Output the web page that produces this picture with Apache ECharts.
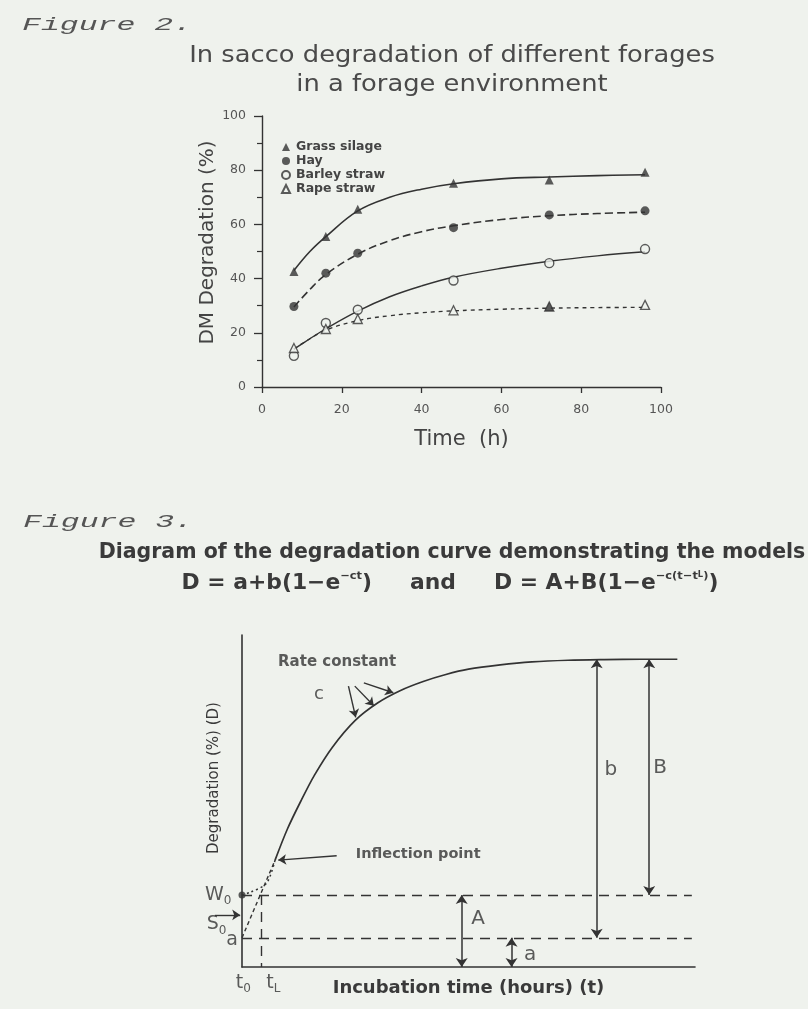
<!DOCTYPE html>
<html>
<head>
<meta charset="utf-8">
<script src="https://cdn.jsdelivr.net/npm/echarts@6/dist/echarts.min.js"></script>
<style>
  html, body { margin: 0; padding: 0; background: #eff2ed; }
  #c { width: 808px; height: 1009px; }
</style>
</head>
<body>
<div id="c"></div>
<script>
// ---- Figure 2: in sacco DM degradation (%) against incubation time (h) ----
const hours = [8, 16, 24, 48, 72, 96];
const grassSilage = [42.6, 55.5, 65.6, 75.2, 76.4, 79.2];
const hay = [29.7, 42.0, 49.4, 58.8, 63.5, 65.0];
const barleyStraw = [11.5, 23.6, 28.5, 39.3, 45.7, 50.9];
const rapeStraw = [14.4, 21.4, 25.1, 28.3, 29.7, 30.3];

// fitted degradation curves, read at these hours
const fitHours = [8, 12, 16, 24, 32, 40, 48, 60, 72, 84, 96];
const grassFit = [43.0, 50.0, 55.5, 65.0, 70.0, 73.0, 75.0, 76.8, 77.5, 78.0, 78.3];
const hayFit = [29.5, 36.0, 41.5, 49.0, 54.0, 57.3, 59.5, 61.8, 63.2, 64.0, 64.5];
const barleyFit = [14.0, 17.8, 21.5, 28.0, 33.3, 37.3, 40.5, 43.8, 46.4, 48.4, 49.9];
const rapeFit = [14.0, 17.8, 21.0, 24.5, 26.3, 27.4, 28.1, 28.7, 29.1, 29.3, 29.4];

const axisTicks = [0, 20, 40, 60, 80, 100];

// ---- Figure 3: schematic degradation curve (arbitrary units, 0-100) ----
const curveT = [7.3, 10, 13, 16, 20, 25, 30, 35, 40, 45, 50, 57, 64, 72, 80, 88, 96.1];
const curveD = [32.2, 41.5, 50.0, 57.8, 66.3, 74.3, 79.6, 83.3, 86.0, 88.1, 89.7, 91.0, 91.9, 92.4, 92.6, 92.7, 92.7];
const lagT = [0, 1.8, 5.4, 7.3];
const lagD = [21.7, 22.5, 25.2, 32.2];
const backT = [0, 7.3];
const backD = [8.8, 32.2];

const levelW0 = 21.7;   // W0 = A
const levelA = 8.8;     // a
const plateau = 92.7;   // a + b = A + B
const tL = 4.3;
const guideEnd = 99.3;

// double-headed spans: b, B, A, a
const spanX = [78.3, 89.9, 48.5, 59.5];
const spanTop = [plateau, plateau, levelW0, levelA];
const spanBottom = [levelA, levelW0, 0, 0];

// single pointers: three rate-constant arrows, inflection point, S0
const pointerFrom = [[23.5, 84.6], [24.9, 84.6], [26.9, 85.6], [20.9, 33.5], [-6.0, 15.7]];
const pointerTo = [[25.1, 75.2], [29.1, 78.7], [33.4, 82.6], [8.0, 32.2], [-0.4, 15.7]];

// text notes inside the diagram
const noteText = ['Rate constant', 'c', 'Inflection point', 'b', 'B', 'A', 'a'];
const noteX = [21.0, 17.0, 38.9, 81.4, 92.3, 52.1, 63.6];
const noteY = [91.7, 82.2, 34.0, 59.3, 59.9, 14.4, 3.6];

const ink = '#333';
const paper = '#eff2ed';
const sans = 'DejaVu Sans';

const pairs = (xs, ys) => xs.map((x, i) => [x, ys[i]]);

const chart = echarts.init(document.getElementById('c'));

const subRich = {
  m: { fontSize: 19, lineHeight: 24, color: ink, fontFamily: sans, verticalAlign: 'middle' },
  sub: { fontSize: 12, lineHeight: 14, color: ink, fontFamily: sans, verticalAlign: 'bottom' }
};

const noteStyle = [
  { fontSize: 15, fontWeight: 'bold' },
  { fontSize: 18 },
  { fontSize: 14.5, fontWeight: 'bold' },
  { fontSize: 20 },
  { fontSize: 20 },
  { fontSize: 20 },
  { fontSize: 20 }
];

const headingInk = '#3a3a3a';

chart.setOption({
  backgroundColor: paper,
  animation: false,
  textStyle: { fontFamily: sans, color: ink },
  graphic: [
    {
      type: 'text', x: 22, y: 25, scaleX: 1.75, silent: true,
      style: { text: 'Figure 2.', fontFamily: 'Liberation Mono', fontStyle: 'italic', fontSize: 18,
               fill: '#555', textAlign: 'left', textVerticalAlign: 'middle' }
    },
    {
      type: 'text', x: 452, y: 71, scaleX: 1.12, silent: true,
      style: { text: 'In sacco degradation of different forages\nin a forage environment',
               fontFamily: sans, fontSize: 23, lineHeight: 29, fill: '#4a4a4a',
               textAlign: 'center', textVerticalAlign: 'middle' }
    },
    {
      type: 'text', x: 23, y: 522, scaleX: 1.75, silent: true,
      style: { text: 'Figure 3.', fontFamily: 'Liberation Mono', fontStyle: 'italic', fontSize: 18,
               fill: '#555', textAlign: 'left', textVerticalAlign: 'middle' }
    },
    {
      type: 'text', x: 452, y: 553, silent: true,
      style: { text: 'Diagram of the degradation curve demonstrating the models',
               fontFamily: sans, fontWeight: 'bold', fontSize: 20.5, fill: headingInk,
               textAlign: 'center', textVerticalAlign: 'middle' }
    },
    {
      type: 'text', x: 450, y: 584, scaleX: 1.04, silent: true,
      style: {
        text: '{m|D = a+b(1\u2212e}{s|\u2212ct}{m|)     and     D = A+B(1\u2212e}{s|\u2212c(t\u2212t}{ss|L}{s|)}{m|)}',
        textAlign: 'center', textVerticalAlign: 'middle',
        rich: {
          m: { fontFamily: sans, fontWeight: 'bold', fontSize: 21, lineHeight: 26, fill: headingInk },
          s: { fontFamily: sans, fontWeight: 'bold', fontSize: 11, lineHeight: 13, verticalAlign: 'top', fill: headingInk },
          ss: { fontFamily: sans, fontWeight: 'bold', fontSize: 8, lineHeight: 18, verticalAlign: 'top', fill: headingInk }
        }
      }
    }
  ],
  legend: {
    orient: 'vertical',
    left: 281, top: 140,
    padding: 0,
    itemWidth: 8, itemHeight: 8, itemGap: 0,
    selectedMode: false,
    textStyle: { fontFamily: sans, fontSize: 12.5, fontWeight: 'bold', lineHeight: 14, color: '#444', padding: [0, 0, 0, 1] },
    data: ['Grass silage', 'Hay', 'Barley straw', 'Rape straw']
  },
  grid: [
    { left: 262, top: 116, width: 399, height: 271, containLabel: false, outerBoundsMode: 'none' },
    { left: 242, top: 635, width: 453, height: 332, containLabel: false, outerBoundsMode: 'none' }
  ],
  xAxis: [
    {
      gridIndex: 0, type: 'value', min: axisTicks[0], max: axisTicks[axisTicks.length - 1], interval: 20,
      name: 'Time  (h)', nameLocation: 'middle', nameGap: 42,
      nameTextStyle: { fontFamily: sans, fontSize: 21, color: '#444' },
      axisLine: { lineStyle: { color: ink, width: 1.4 } },
      axisTick: { length: 6, lineStyle: { color: ink, width: 1.3 } },
      axisLabel: { margin: 16, fontSize: 12.5, color: '#555', fontFamily: sans },
      splitLine: { show: false }
    },
    {
      gridIndex: 1, type: 'value', min: 0, max: 100,
      name: 'Incubation time (hours) (t)', nameLocation: 'middle', nameGap: 12,
      nameTextStyle: { fontFamily: sans, fontSize: 18, fontWeight: 'bold', color: headingInk },
      axisLine: { lineStyle: { color: ink, width: 1.6 } },
      axisTick: { show: false }, axisLabel: { show: false },
      splitLine: { show: false }
    }
  ],
  yAxis: [
    {
      gridIndex: 0, type: 'value', min: axisTicks[0], max: axisTicks[axisTicks.length - 1], interval: 20,
      name: 'DM Degradation (%)', nameLocation: 'middle', nameGap: 40,
      nameTextStyle: { fontFamily: sans, fontSize: 20, color: '#444', padding: [0, 0, 0, 18] },
      axisLine: { lineStyle: { color: ink, width: 1.4 } },
      axisTick: { length: 8, lineStyle: { color: ink, width: 1.3 } },
      minorTick: { show: true, splitNumber: 2, length: 5, lineStyle: { color: ink, width: 1.2 } },
      axisLabel: { margin: 16, fontSize: 12.5, color: '#555', fontFamily: sans },
      splitLine: { show: false }, minorSplitLine: { show: false }
    },
    {
      gridIndex: 1, type: 'value', min: 0, max: 100,
      name: 'Degradation (%) (D)', nameLocation: 'middle', nameGap: 20,
      nameTextStyle: { fontFamily: sans, fontSize: 15, color: headingInk, padding: [0, 0, 0, 46] },
      axisLine: { lineStyle: { color: ink, width: 1.6 } },
      axisTick: { show: false }, axisLabel: { show: false },
      splitLine: { show: false }
    }
  ],
  series: [
    // fitted curves
    {
      name: 'Grass silage fit', type: 'line', xAxisIndex: 0, yAxisIndex: 0, smooth: 0.4, symbol: 'none',
      data: pairs(fitHours, grassFit), lineStyle: { color: ink, width: 1.6 }, silent: true
    },
    {
      name: 'Hay fit', type: 'line', xAxisIndex: 0, yAxisIndex: 0, smooth: 0.4, symbol: 'none',
      data: pairs(fitHours, hayFit), lineStyle: { color: ink, width: 1.6, type: [8, 4] }, silent: true
    },
    {
      name: 'Barley straw fit', type: 'line', xAxisIndex: 0, yAxisIndex: 0, smooth: 0.4, symbol: 'none',
      data: pairs(fitHours, barleyFit), lineStyle: { color: ink, width: 1.4 }, silent: true
    },
    {
      name: 'Rape straw fit', type: 'line', xAxisIndex: 0, yAxisIndex: 0, smooth: 0.4, symbol: 'none',
      data: pairs(fitHours, rapeFit), lineStyle: { color: ink, width: 1.4, type: [4, 4] }, silent: true
    },
    // measured points
    {
      name: 'Grass silage', type: 'scatter', xAxisIndex: 0, yAxisIndex: 0, symbol: 'triangle', symbolSize: 9,
      data: pairs(hours, grassSilage), itemStyle: { color: ink }, z: 3
    },
    {
      name: 'Hay', type: 'scatter', xAxisIndex: 0, yAxisIndex: 0, symbol: 'circle', symbolSize: 9,
      data: pairs(hours, hay), itemStyle: { color: ink }, z: 3
    },
    {
      name: 'Barley straw', type: 'scatter', xAxisIndex: 0, yAxisIndex: 0, symbol: 'circle', symbolSize: 9,
      data: pairs(hours, barleyStraw), itemStyle: { color: paper, borderColor: ink, borderWidth: 1.4 }, z: 3
    },
    {
      name: 'Rape straw', type: 'scatter', xAxisIndex: 0, yAxisIndex: 0, symbol: 'triangle', symbolSize: 9,
      data: pairs(hours, rapeStraw).map((p, i) => (hours[i] === 72 ? { value: p, itemStyle: { color: ink } } : p)),
      itemStyle: { color: paper, borderColor: ink, borderWidth: 1.3 }, z: 3
    },

    // Figure 3 curve and its construction lines
    {
      name: 'Degradation curve', type: 'line', xAxisIndex: 1, yAxisIndex: 1, smooth: 0.3, symbol: 'none',
      data: pairs(curveT, curveD), lineStyle: { color: ink, width: 1.7 }, silent: true
    },
    {
      name: 'Lag phase', type: 'line', xAxisIndex: 1, yAxisIndex: 1, smooth: 0.3, symbol: 'none',
      data: pairs(lagT, lagD), lineStyle: { color: ink, width: 1.5, type: [2, 3] }, silent: true
    },
    {
      name: 'Back extrapolation', type: 'line', xAxisIndex: 1, yAxisIndex: 1, symbol: 'none',
      data: pairs(backT, backD), lineStyle: { color: ink, width: 1.4, type: [4, 3] }, silent: true
    },
    {
      name: 'Guides', type: 'lines', coordinateSystem: 'cartesian2d', xAxisIndex: 1, yAxisIndex: 1, silent: true,
      lineStyle: { color: ink, width: 1.4, type: [10, 7], opacity: 1 },
      data: [
        { coords: [[0, levelW0], [guideEnd, levelW0]] },
        { coords: [[0, levelA], [guideEnd, levelA]] },
        { coords: [[tL, levelW0], [tL, 0]] }
      ]
    },
    {
      name: 'Spans', type: 'lines', coordinateSystem: 'cartesian2d', xAxisIndex: 1, yAxisIndex: 1, silent: true,
      symbol: ['arrow', 'arrow'], symbolSize: 9,
      lineStyle: { color: ink, width: 1.5, opacity: 1 },
      data: spanX.map((x, i) => ({ coords: [[x, spanTop[i]], [x, spanBottom[i]]] }))
    },
    {
      name: 'Pointers', type: 'lines', coordinateSystem: 'cartesian2d', xAxisIndex: 1, yAxisIndex: 1, silent: true,
      symbol: ['none', 'arrow'], symbolSize: 8, clip: false,
      lineStyle: { color: ink, width: 1.4, opacity: 1 },
      data: pointerFrom.map((p, i) => ({ coords: [p, pointerTo[i]] }))
    },
    {
      name: 'W0', type: 'scatter', xAxisIndex: 1, yAxisIndex: 1, symbol: 'circle', symbolSize: 7, clip: false,
      itemStyle: { color: ink }, silent: true, z: 4,
      data: [[0, levelW0]],
      label: { show: true, position: 'left', distance: 7, formatter: '{m|W}{sub|0}', rich: subRich }
    },
    {
      name: 'Axis notes', type: 'scatter', xAxisIndex: 1, yAxisIndex: 1, symbolSize: 1, clip: false,
      itemStyle: { color: 'transparent' }, silent: true,
      data: [
        { value: [-5.6, 12.8], label: { formatter: '{m|S}{sub|0}' } },
        { value: [-2.2, 8.1], label: { formatter: '{m|a}' } },
        { value: [0.3, -4.8], label: { formatter: '{m|t}{sub|0}' } },
        { value: [6.9, -4.8], label: { formatter: '{m|t}{sub|L}' } }
      ],
      label: { show: true, position: 'inside', rich: subRich }
    },
    {
      name: 'Notes', type: 'scatter', xAxisIndex: 1, yAxisIndex: 1, symbolSize: 1, clip: false,
      itemStyle: { color: 'transparent' }, silent: true,
      data: noteText.map((t, i) => ({
        value: [noteX[i], noteY[i]],
        label: Object.assign({ formatter: t }, noteStyle[i])
      })),
      label: { show: true, position: 'inside', color: ink, fontFamily: sans }
    }
  ]
});
</script>
</body>
</html>
